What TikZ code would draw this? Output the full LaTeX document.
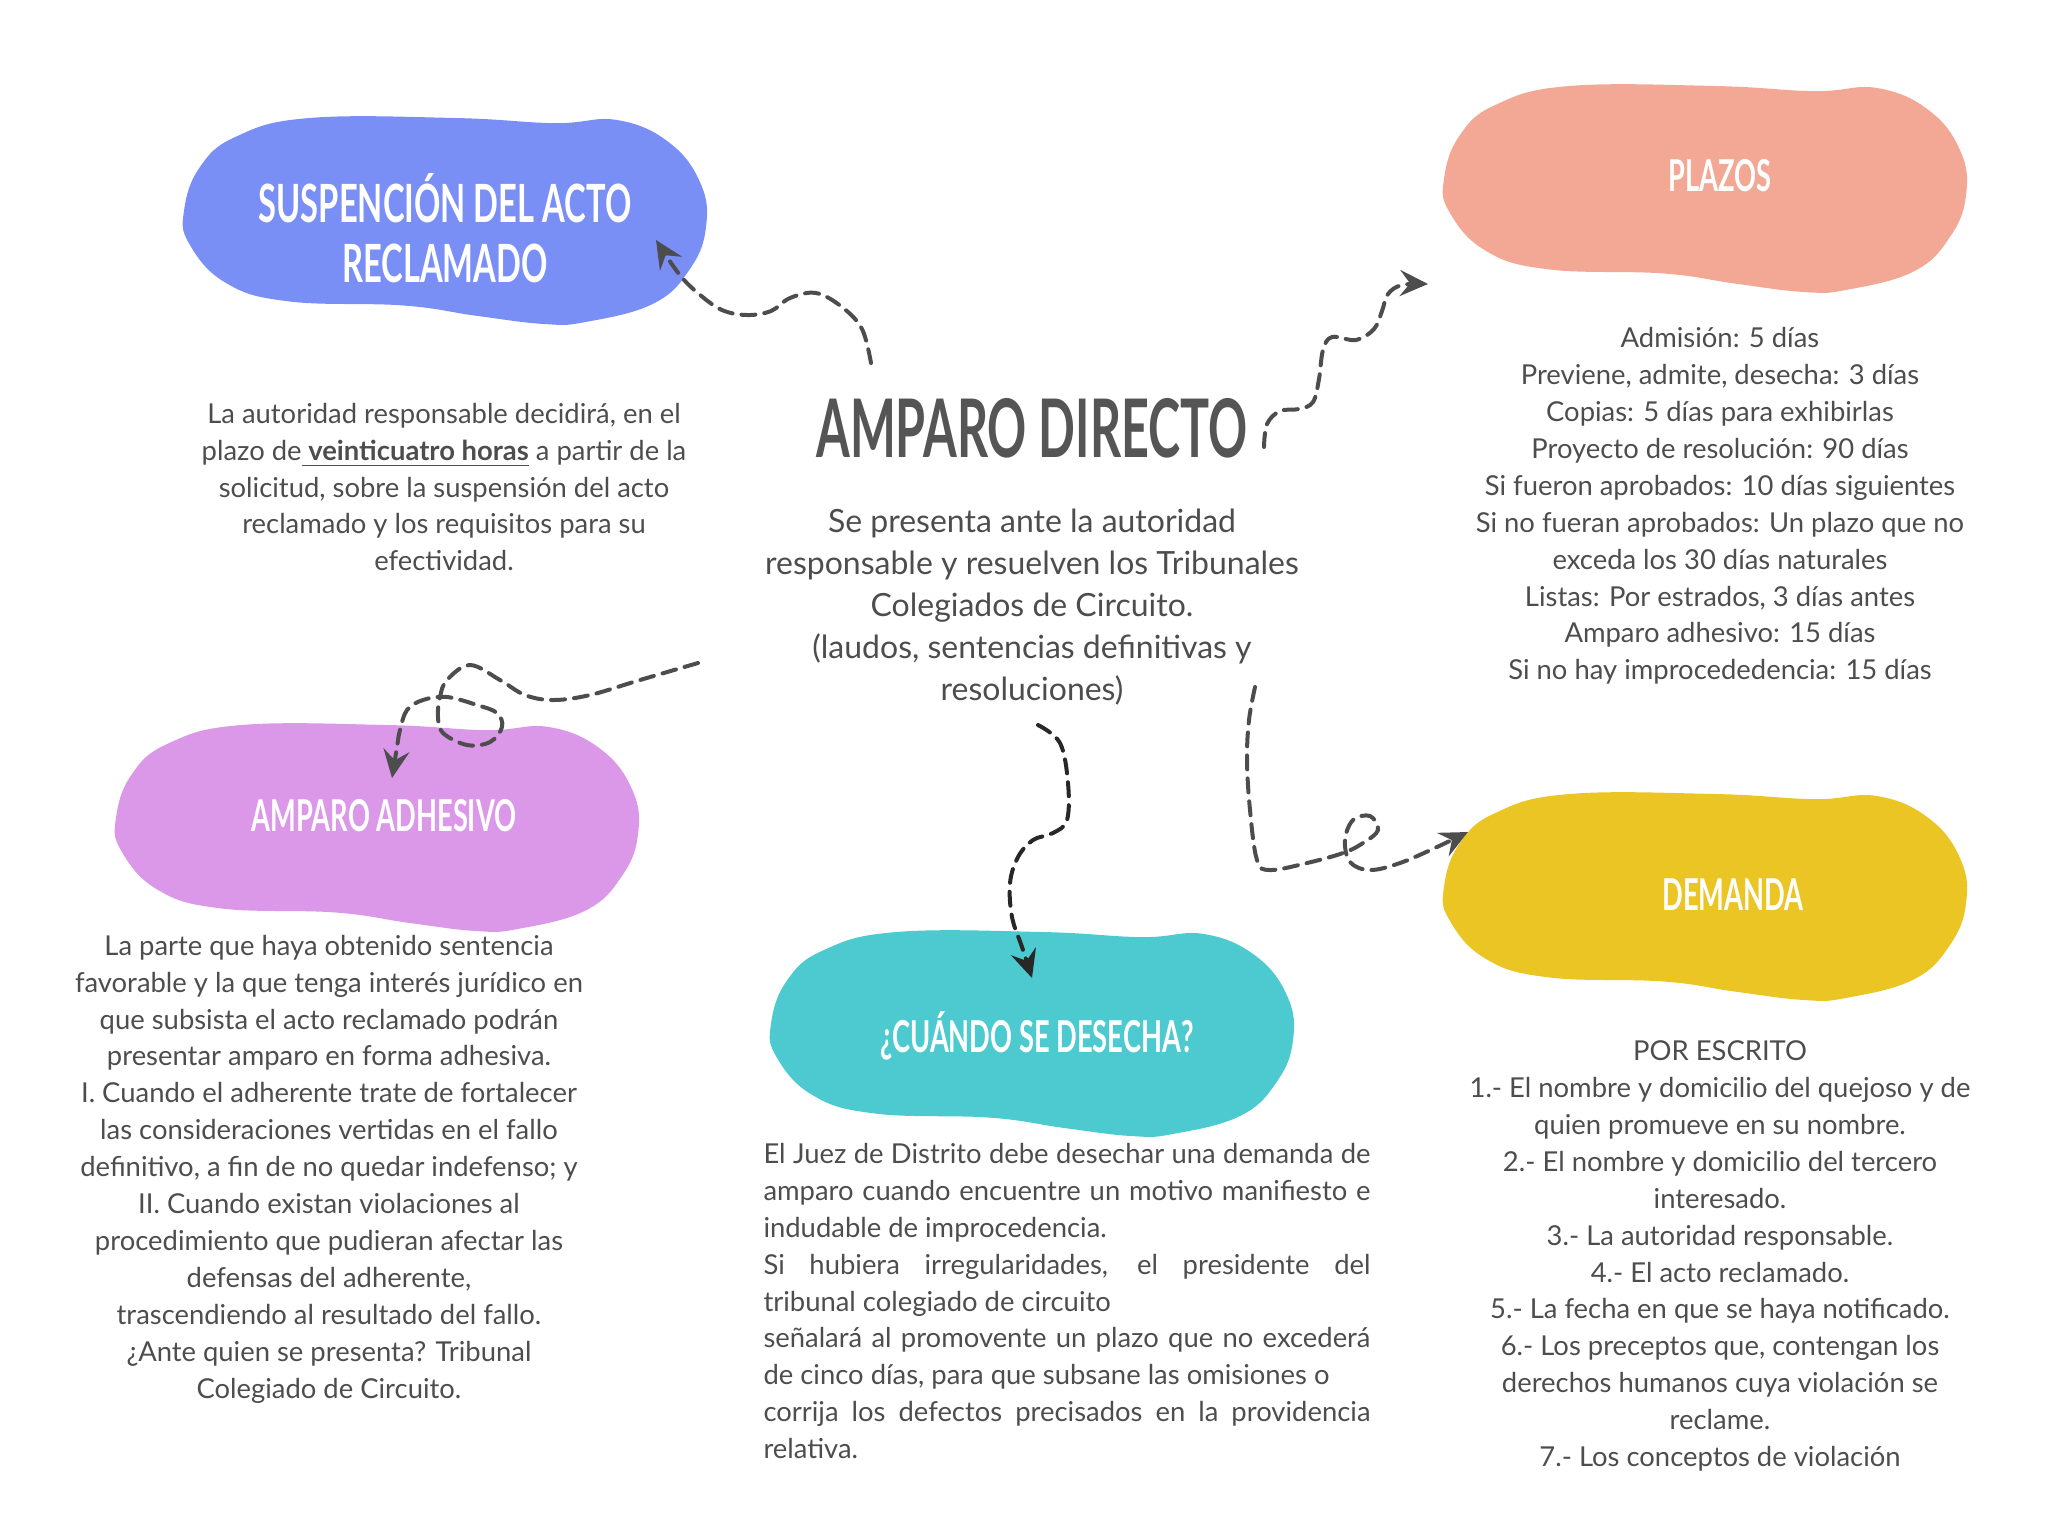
\documentclass[tikz,border=0pt]{standalone}
\usepackage{fontspec}
\setmainfont{Lato}
\newfontfamily\headfont{Lato}[FakeStretch=0.62]
\newfontfamily\titlefont{Lato}[FakeStretch=0.6]
\usetikzlibrary{arrows.meta}

\definecolor{blobblue}{RGB}{121,143,246}
\definecolor{blobpeach}{RGB}{242,168,148}
\definecolor{blobviolet}{RGB}{219,151,232}
\definecolor{blobteal}{RGB}{77,202,207}
\definecolor{blobyellow}{RGB}{234,197,35}
\definecolor{inkgray}{RGB}{77,77,77}
\definecolor{inkdark}{RGB}{40,40,40}
\definecolor{titlegray}{RGB}{85,85,85}

% blob: colour, left, top, width, height
\newcommand{\blob}[5]{%
  \begin{scope}[shift={(#2,#3)}, xscale=#4, yscale=#5]
    \fill[#1] plot[smooth cycle, tension=0.7] coordinates {
      (0.24,0.00) (0.52,0.00) (0.71,0.025) (0.83,0.01) (0.93,0.12) (0.99,0.32)
      (1.00,0.53) (0.97,0.73) (0.90,0.90) (0.77,0.99) (0.69,1.00) (0.56,0.96)
      (0.42,0.91) (0.20,0.89) (0.08,0.80) (0.01,0.61) (0.00,0.45) (0.03,0.24)
      (0.10,0.09)};
  \end{scope}}

\begin{document}
\begin{tikzpicture}[x=0.1mm, y=-0.1mm,
	headtext/.style={font=\headfont\bfseries\fontsize{12.5}{15}\selectfont, text=white, align=center},
	bigheadtext/.style={font=\headfont\bfseries\fontsize{15}{17}\selectfont, text=white, align=center},
	titletext/.style={font=\titlefont\bfseries\fontsize{23}{26}\selectfont, text=titlegray},
	bodytext/.style={font=\fontsize{7.8}{10.5}\selectfont, text=inkgray, align=center},
	midtext/.style={font=\fontsize{9.1}{12}\selectfont, text=inkgray, align=center},
	link/.style={draw=inkgray, line width=0.4mm, dash pattern=on 1.4mm off 0.9mm, line cap=round,
		-{Stealth[length=2.8mm, width=2.6mm, inset=1mm]}},
	]
	\useasboundingbox (0,0) rectangle (2048,1536);

	% Blobs
	\blob{blobblue}{184}{118}{522}{206}
	\blob{blobpeach}{1444}{86}{522}{206}
	\blob{blobviolet}{116}{725}{522}{206}
	\blob{blobteal}{771}{932}{522}{204}
	\blob{blobyellow}{1444}{794}{522}{206}

	% Nodes
	\node[titletext]                  (title)       at (1032, 428)  {AMPARO DIRECTO};
	\node[midtext]                    (intro)       at (1032, 607)  {Se presenta ante la autoridad\\
		responsable y resuelven los Tribunales\\ Colegiados de Circuito.\\
		(laudos, sentencias definitivas y\\ resoluciones)};

	\node[bigheadtext]                (suspension)  at (445, 228)   {SUSPENCIÓN DEL ACTO\\ RECLAMADO};
	\node[headtext]                   (plazos)      at (1720, 176)  {PLAZOS};
	\node[headtext]                   (adhesivo)    at (384, 816)   {AMPARO ADHESIVO};
	\node[headtext]                   (desecha)     at (1037, 1036) {¿CUÁNDO SE DESECHA?};
	\node[headtext]                   (demanda)     at (1733, 895)  {DEMANDA};

	\node[bodytext]                   (suspension_txt) at (444, 487) {La autoridad responsable decidirá, en el\\
		plazo de\underline{\textbf{ veinticuatro horas}} a partir de la\\
		solicitud, sobre la suspensión del acto\\ reclamado y los requisitos para su\\ efectividad.};
	\node[bodytext]                   (plazos_txt)  at (1720, 506)  {Admisión: 5 días\\ Previene, admite, desecha: 3 días\\
		Copias: 5 días para exhibirlas\\ Proyecto de resolución: 90 días\\
		Si fueron aprobados: 10 días siguientes\\ Si no fueran aprobados: Un plazo que no\\
		exceda los 30 días naturales\\ Listas: Por estrados, 3 días antes\\
		Amparo adhesivo: 15 días\\ Si no hay improcededencia: 15 días};
	\node[bodytext]                   (adhesivo_txt) at (329, 1169) {La parte que haya obtenido sentencia\\
		favorable y la que tenga interés jurídico en\\ que subsista el acto reclamado podrán\\
		presentar amparo en forma adhesiva.\\ I. Cuando el adherente trate de fortalecer\\
		las consideraciones vertidas en el fallo\\ definitivo, a fin de no quedar indefenso; y\\
		II. Cuando existan violaciones al\\ procedimiento que pudieran afectar las\\
		defensas del adherente,\\ trascendiendo al resultado del fallo.\\
		¿Ante quien se presenta? Tribunal\\ Colegiado de Circuito.};
	\node[bodytext, text width=607*0.1mm, align=justify] (desecha_txt) at (1067, 1301) {El Juez de Distrito debe desechar una demanda de\linebreak
		amparo cuando encuentre un motivo manifiesto e\linebreak
		indudable de improcedencia.\\
		Si hubiera irregularidades, el presidente del\linebreak
		tribunal colegiado de circuito\\
		señalará al promovente un plazo que no excederá\linebreak
		de cinco días, para que subsane las omisiones o\\
		corrija los defectos precisados en la providencia\linebreak
		relativa.};
	\node[bodytext]                   (demanda_txt) at (1720, 1256) {POR ESCRITO\\
		1.- El nombre y domicilio del quejoso y de\\ quien promueve en su nombre.\\
		2.- El nombre y domicilio del tercero\\ interesado.\\ 3.- La autoridad responsable.\\
		4.- El acto reclamado.\\ 5.- La fecha en que se haya notificado.\\
		6.- Los preceptos que, contengan los\\ derechos humanos cuya violación se\\
		reclame.\\ 7.- Los conceptos de violación};

	% Connector ends
	\coordinate (to_suspension_s) at (871, 363);
	\coordinate (to_suspension_e) at (656, 240);
	\coordinate (to_plazos_s)     at (1264, 447);
	\coordinate (to_plazos_e)     at (1428, 284);
	\coordinate (to_adhesivo_s)   at (698, 663);
	\coordinate (to_adhesivo_e)   at (392, 778);
	\coordinate (to_desecha_s)    at (1038, 725);
	\coordinate (to_desecha_e)    at (1032, 978);
	\coordinate (to_demanda_s)    at (1255, 687);
	\coordinate (to_demanda_e)    at (1468, 832);

	% Lines
	\draw[link] plot[smooth, tension=0.6] coordinates {(to_suspension_s) (862,329) (842,307) (816,293)
		(790,298) (771,311) (747,315) (722,310) (699,294) (679,274) (to_suspension_e)};
	\draw[link] plot[smooth, tension=0.6] coordinates {(to_plazos_s) (1267,424) (1280,411) (1299,409)
		(1313,402) (1319,379) (1323,350) (1332,337) (1356,340) (1374,329) (1382,311) (1388,294)
		(1402,285) (to_plazos_e)};
	\draw[link] plot[smooth, tension=0.6] coordinates {(to_adhesivo_s) (640,680) (590,695) (553,700)
		(525,695) (500,680) (470,665) (447,680) (440,697) (438,717) (443,733) (467,745) (490,742)
		(502,727) (497,713) (477,705) (447,697) (423,700) (407,710) (400,730) (397,747) (to_adhesivo_e)};
	\draw[link, draw=inkdark] plot[smooth, tension=0.6] coordinates {(to_desecha_s) (1060,743) (1068,783)
		(1067,820) (1053,833) (1033,840) (1018,857) (1010,883) (1012,917) (1022,947) (to_desecha_e)};
	\draw[link] plot[smooth, tension=0.6] coordinates {(to_demanda_s) (1249,720) (1247,760) (1250,810)
		(1257,860) (1270,870) (1307,863) (1343,853) (1363,843) (1378,830) (1370,816) (1353,820)
		(1345,840) (1350,862) (1370,870) (1400,863) (1437,847) (to_demanda_e)};
\end{tikzpicture}
\end{document}
